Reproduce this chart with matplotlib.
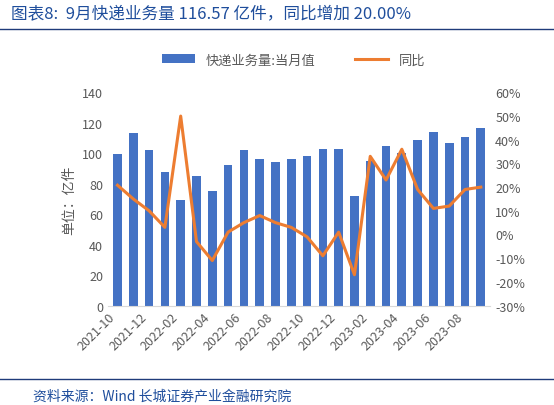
import matplotlib
matplotlib.use("Agg")
import matplotlib.pyplot as plt
from matplotlib.ticker import FuncFormatter

plt.rcParams['font.family'] = ['Noto Sans CJK SC', 'DejaVu Sans']

months = ["2021-10","2021-11","2021-12","2022-01","2022-02","2022-03","2022-04","2022-05",
          "2022-06","2022-07","2022-08","2022-09","2022-10","2022-11","2022-12","2023-01",
          "2023-02","2023-03","2023-04","2023-05","2023-06","2023-07","2023-08","2023-09"]
volume = [99.5,113,102,88,69,85,75,92,102,96,94,96,98,103,103,72,95,105,100,109,114,107,111,116.57]
yoy = [20.8,15,10,3,50,-3,-11,1,5,8,5,3,-1,-9,1,-17,33,23,36,19,11,12,19,20]

fig = plt.figure(figsize=(5.54,4.06), dpi=100)
fig.text(0.02,0.955,"图表8:  9月快递业务量 116.57 亿件，同比增加 20.00%",color="#1f4e9c",
         fontsize=12, style="italic")
fig.add_artist(plt.Line2D([0.0,1.0],[0.925,0.925],color="#1f3b7a",lw=1))
fig.add_artist(plt.Line2D([0.0,1.0],[0.065,0.065],color="#1f3b7a",lw=1))
fig.text(0.06,0.015,"资料来源：Wind 长城证券产业金融研究院",color="#1f4e9c",fontsize=10,style="italic")

ax = fig.add_axes([0.195,0.245,0.69,0.525])
x = range(len(months))
ax.bar(x, volume, width=0.55, color="#4472c4", label="快递业务量:当月值")
ax.set_ylim(0,140)
ax.set_yticks(range(0,141,20))
ax.set_xlim(-0.6,len(months)-0.4)
ax.set_xticks(list(x)[::2])
ax.set_xticklabels(months[::2], rotation=45, ha="right", fontsize=9, color="#595959")
ax.tick_params(axis='y', labelsize=9, colors="#595959", length=0)
ax.tick_params(axis='x', length=0)
ax.set_ylabel("单位：亿件", color="#595959", fontsize=10)
for s in ["top","right","left"]:
    ax.spines[s].set_visible(False)
ax.spines["bottom"].set_color("#d9d9d9")

ax2 = ax.twinx()
ax2.plot(x, yoy, color="#ed7d31", lw=2.2, label="同比")
ax2.set_ylim(-30,60)
ax2.set_yticks(range(-30,61,10))
ax2.yaxis.set_major_formatter(FuncFormatter(lambda v,p: f"{int(v)}%"))
ax2.tick_params(axis='y', labelsize=9, colors="#595959", length=0)
for s in ["top","right","left","bottom"]:
    ax2.spines[s].set_visible(False)

h1,l1 = ax.get_legend_handles_labels()
h2,l2 = ax2.get_legend_handles_labels()
fig.legend(h1+h2, l1+l2, loc="center", bbox_to_anchor=(0.53,0.85), ncol=2, frameon=False,
           fontsize=9.5, labelcolor="#595959", handlelength=2.5, columnspacing=3)
fig.savefig("out.png", dpi=100)
